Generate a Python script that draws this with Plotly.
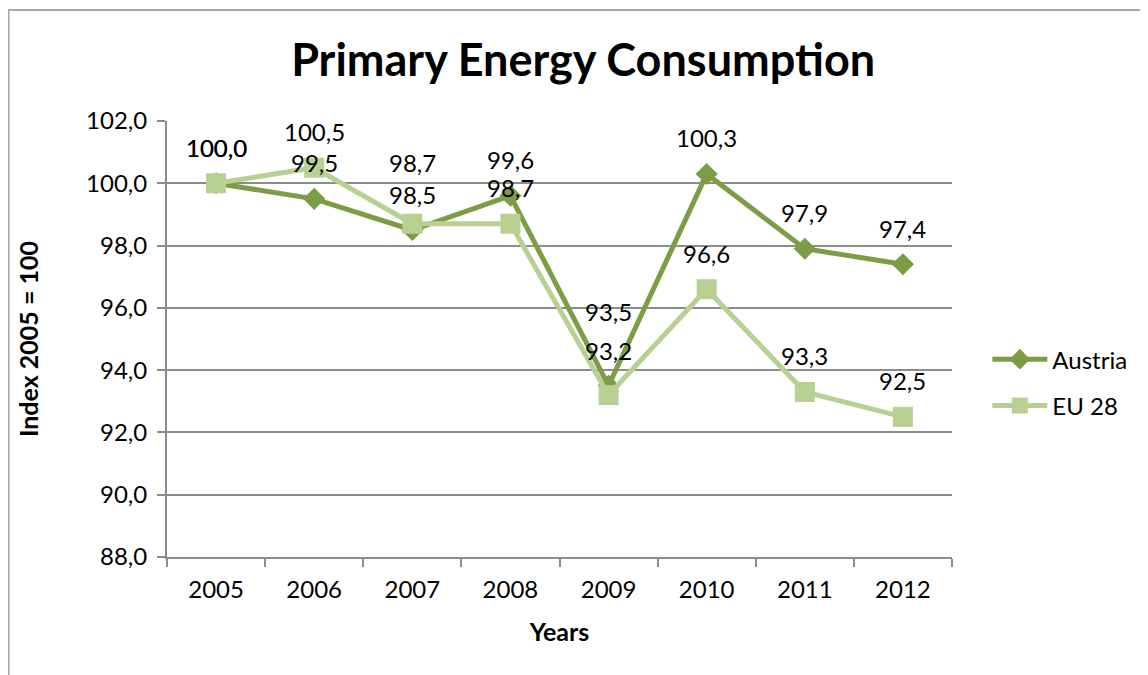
import plotly.graph_objects as go

years = ['2005', '2006', '2007', '2008', '2009', '2010', '2011', '2012']
austria = [100.0, 99.5, 98.5, 99.6, 93.5, 100.3, 97.9, 97.4]
eu28 = [100.0, 100.5, 98.7, 98.7, 93.2, 96.6, 93.3, 92.5]
y_ticks = [88, 90, 92, 94, 96, 98, 100, 102]

col_at = '#7C9C45'
col_eu = '#B8D193'
grid = '#8C8C8C'
font_fam = 'Lato, Open Sans, sans-serif'

fig = go.Figure()

fig.add_trace(go.Scatter(
    x=years, y=austria, name='Austria', mode='lines+markers',
    line=dict(color=col_at, width=5),
    marker=dict(symbol='diamond', size=17, color=col_at),
    legendgroup='a'
))
fig.add_trace(go.Scatter(
    x=years, y=eu28, name='EU 28', mode='lines+markers',
    line=dict(color=col_eu, width=5),
    marker=dict(symbol='square', size=20, color=col_eu),
    legendgroup='b'
))

# data labels above each point (x = category index on the category axis)
# a few labels were nudged by hand in the original to avoid collisions
label_shift = {('EU 28', '2007'): 61, ('Austria', '2009'): 74, ('EU 28', '2009'): 45}
for name, series in (('Austria', austria), ('EU 28', eu28)):
    for i, v in enumerate(series):
        fig.add_annotation(
            x=i, y=v, xref='x', yref='y',
            text=f'{v:.1f}'.replace('.', ','),
            showarrow=False, yshift=label_shift.get((name, years[i]), 36),
            font=dict(size=24, color='black', family=font_fam)
        )

# outer chart frame (Excel style)
fig.add_shape(type='rect', xref='paper', yref='paper',
              x0=-0.2019, x1=1.3, y0=-0.35, y1=1.2546,
              line=dict(color='#A6A6A6', width=2), layer='below')

fig.update_layout(
    width=1148, height=675,
    separators=',.',
    title=dict(text='<b>Primary Energy Consumption</b>', x=0.501, xanchor='center',
               y=0.923, yanchor='middle', xref='container', yref='container',
               font=dict(size=45, color='black', family=font_fam)),
    font=dict(family=font_fam, size=24, color='black'),
    plot_bgcolor='white', paper_bgcolor='white',
    margin=dict(l=159, r=204, t=113, b=126),
    xaxis=dict(
        type='category', range=[-0.5, 7.5],
        title=dict(text='<b>Years</b>', font=dict(size=25), standoff=22),
        showline=True, linecolor=grid, linewidth=2,
        ticks='outside', tickson='boundaries', ticklen=8, tickcolor=grid, tickwidth=2,
        ticklabelstandoff=10,
        showgrid=False, tickfont=dict(size=24)
    ),
    yaxis=dict(
        range=[88, 102], tickvals=y_ticks, tickformat='.1f',
        title=dict(text='<b>Index 2005 = 100</b>', font=dict(size=25), standoff=40),
        showline=True, linecolor=grid, linewidth=2,
        ticks='outside', ticklen=8, tickcolor=grid, tickwidth=2,
        ticklabelstandoff=5,
        showgrid=True, gridcolor=grid, gridwidth=2,
        zeroline=False, tickfont=dict(size=24)
    ),
    legend=dict(x=1.045, xanchor='left', y=0.4, yanchor='middle',
                font=dict(size=24), traceorder='grouped', tracegroupgap=12,
                itemwidth=55, bgcolor='rgba(0,0,0,0)'),
    showlegend=True
)

fig.write_html('out.html')
